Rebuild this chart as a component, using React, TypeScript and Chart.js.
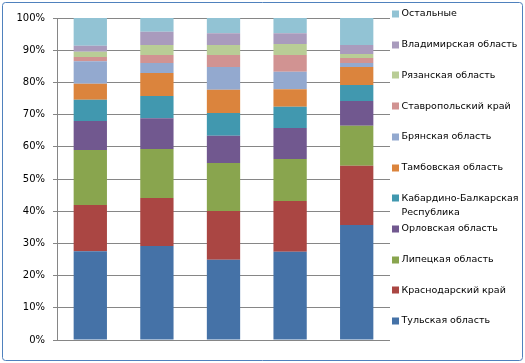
import React, { useEffect, useRef } from "react";
import { Chart, registerables } from "chart.js";

Chart.register(...registerables);

const categories = ["1", "2", "3", "4", "5"];

const seriesNames = [
  "Тульская область",
  "Краснодарский край",
  "Липецкая область",
  "Орловская область",
  "Кабардино-Балкарская Республика",
  "Тамбовская область",
  "Брянская область",
  "Ставропольский край",
  "Рязанская область",
  "Владимирская область",
  "Остальные",
];

const seriesColors = [
  "#4572A7",
  "#AA4643",
  "#89A54E",
  "#71588F",
  "#4198AF",
  "#DB843D",
  "#93A9CF",
  "#D19392",
  "#B9CD96",
  "#A99BBD",
  "#92C3D4",
];

const tulskaya = [27.6, 29.2, 24.9, 27.4, 35.7];
const krasnodar = [14.3, 14.9, 15.2, 15.8, 18.4];
const lipetsk = [17.1, 15.2, 14.9, 13.0, 12.4];
const orlov = [9.0, 9.6, 8.4, 9.6, 7.7];
const kabardino = [6.6, 6.9, 7.1, 6.6, 5.0];
const tambov = [5.0, 7.1, 7.2, 5.5, 5.6];
const bryansk = [7.0, 3.1, 7.1, 5.4, 1.2];
const stavropol = [1.3, 2.5, 3.7, 5.2, 1.6];
const ryazan = [1.6, 3.1, 3.1, 3.4, 1.2];
const vladimir = [1.9, 4.1, 3.7, 3.4, 2.8];
const others = [8.6, 4.3, 4.7, 4.7, 8.4];

const seriesValues = [
  tulskaya,
  krasnodar,
  lipetsk,
  orlov,
  kabardino,
  tambov,
  bryansk,
  stavropol,
  ryazan,
  vladimir,
  others,
];

const yTickStep = 10;
const yMax = 100;

const FONT = "'DejaVu Sans', Verdana, sans-serif";

const framePlugin = {
  id: "frame",
  beforeDraw(chart: any) {
    const ctx = chart.ctx;
    ctx.save();
    ctx.fillStyle = "#ffffff";
    ctx.fillRect(0, 0, chart.width, chart.height);
    ctx.strokeStyle = "#4F81BD";
    ctx.lineWidth = 1;
    ctx.beginPath();
    if (ctx.roundRect) ctx.roundRect(2.5, 2.5, 520, 358, 3);
    else ctx.rect(2.5, 2.5, 520, 358);
    ctx.stroke();
    ctx.restore();
  },
};

const legendPlugin = {
  id: "customLegend",
  afterDraw(chart: any) {
    const ctx = chart.ctx;
    const ds = chart.data.datasets;
    ctx.save();
    ctx.font = `9.5px ${FONT}`;
    ctx.textBaseline = "middle";
    ctx.textAlign = "left";
    const boxX = 392;
    const textX = 401.5;
    const maxW = 122;
    const startY = 14;
    const step = 30.7;
    const order = ds.map((_: any, i: number) => i).reverse();
    order.forEach((idx: number, k: number) => {
      const d = ds[idx];
      const y = startY + k * step;
      ctx.fillStyle = d.backgroundColor;
      ctx.fillRect(boxX, Math.round(y) - 3.5, 7, 7);
      ctx.fillStyle = "#000000";
      const words = String(d.label).split(" ");
      const lines: string[] = [];
      let cur = "";
      words.forEach((w) => {
        const t = cur ? cur + " " + w : w;
        if (cur && ctx.measureText(t).width > maxW) {
          lines.push(cur);
          cur = w;
        } else cur = t;
      });
      if (cur) lines.push(cur);
      lines.forEach((ln, li) => {
        ctx.fillText(ln, textX, y + li * 14.5);
      });
    });
    ctx.restore();
  },
};

export default function App() {
  const ref = useRef<HTMLCanvasElement | null>(null);

  useEffect(() => {
    if (!ref.current) return;
    const chart = new Chart(ref.current, {
      type: "bar",
      data: {
        labels: categories,
        datasets: seriesNames.map((name, i) => ({
          label: name,
          data: seriesValues[i],
          backgroundColor: seriesColors[i],
          borderWidth: 0,
          barPercentage: 0.5,
          categoryPercentage: 1,
        })),
      },
      options: {
        responsive: false,
        animation: false,
        devicePixelRatio: 1,
        layout: { padding: { left: 0, top: 18, right: 135, bottom: 23 } },
        plugins: {
          legend: { display: false },
          tooltip: { enabled: false },
        },
        scales: {
          x: {
            stacked: true,
            display: false,
            grid: { display: false },
          },
          y: {
            stacked: true,
            min: 0,
            max: yMax,
            afterFit(scale: any) {
              scale.width = 57;
            },
            ticks: {
              stepSize: yTickStep,
              callback: (v: any) => v + "%",
              color: "#000000",
              font: { family: FONT, size: 10 },
              padding: 8,
            },
            grid: {
              color: "#868686",
              lineWidth: 1,
              tickLength: 4,
              drawTicks: true,
            },
            border: { display: true, color: "#868686" },
          },
        },
      },
      plugins: [framePlugin, legendPlugin],
    });
    return () => chart.destroy();
  }, []);

  return (
    <div style={{ position: "fixed", left: 0, top: 0, width: 525, height: 363 }}>
      <canvas ref={ref} width={525} height={363} style={{ display: "block" }} />
    </div>
  );
}
